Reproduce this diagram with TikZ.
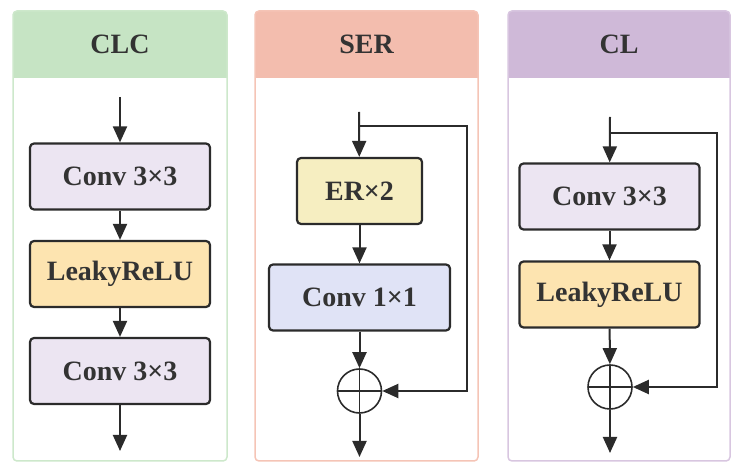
\documentclass[tikz,border=0pt]{standalone}
\usepackage{fontspec}
\setmainfont{Liberation Serif}
\usepackage{xcolor}
\usepackage{tikz}
\usetikzlibrary{arrows.meta, positioning, calc}
\definecolor{HeadGreen}{HTML}{C6E4C4}
\definecolor{HeadRed}{HTML}{F3BDAE}
\definecolor{HeadPurple}{HTML}{CFB9D8}
\definecolor{EdgeGreen}{HTML}{CDE8CB}
\definecolor{EdgeRed}{HTML}{F5C4B6}
\definecolor{EdgePurple}{HTML}{D8C6E0}
\definecolor{FillConv}{HTML}{ECE5F2}
\definecolor{FillLeaky}{HTML}{FDE4B0}
\definecolor{FillER}{HTML}{F6EEC1}
\definecolor{FillOne}{HTML}{E0E3F6}
\definecolor{LineDark}{HTML}{2B2B2B}
\definecolor{TextDark}{HTML}{333333}
\tikzset{
  >={Triangle[length=16pt,width=14pt]},  % punte grandi piene
  % Riquadri dei tre moduli
  panel/.style={rounded corners=4pt,line width=1.5pt},
  head text/.style={font=\bfseries\fontsize{28}{32}\selectfont,text=TextDark},
  % Blocchi
  blk/.style={draw=LineDark,line width=2.2pt,rounded corners=4pt,minimum height=66pt,
    inner sep=0pt,font=\bfseries\fontsize{28}{32}\selectfont,text=TextDark},
  blk conv/.style={blk,fill=FillConv,minimum width=180pt},
  blk leaky/.style={blk,fill=FillLeaky,minimum width=180pt},
  blk er/.style={blk,fill=FillER,minimum width=125pt},
  blk one/.style={blk,fill=FillOne,minimum width=181pt},
  % Somma
  sum/.style={circle,draw=LineDark,line width=1.6pt,minimum size=44pt,inner sep=0pt,
    path picture={\draw[LineDark,line width=1.6pt]
      (path picture bounding box.north) -- (path picture bounding box.south)
      (path picture bounding box.west) -- (path picture bounding box.east);}},
  % Connessioni
  conn/.style={->,line width=2pt,LineDark}
}
\begin{document}
\begin{tikzpicture}[x=1pt,y=-1pt]
  \useasboundingbox (0,0) rectangle (740,470);
  % CLC
  \fill[HeadGreen,rounded corners=4pt] (13,11) rectangle (227,78);
  \fill[HeadGreen] (13,60) rectangle (227,78);
  \draw[panel,EdgeGreen] (13,11) rectangle (227,461);
  \node[head text] (clc) at (120,44) {CLC};
  \coordinate (clcin) at (120,97);
  \node[blk conv] (clcconva) at (120,176.5) {Conv 3×3};
  \node[blk leaky] (clcleaky) at (120,274) {LeakyReLU};
  \node[blk conv] (clcconvb) at (120,371) {Conv 3×3};
  \coordinate (clcout) at (120,451);
  \draw[conn] (clcin) -- (clcconva);
  \draw[conn] (clcconva) -- (clcleaky);
  \draw[conn] (clcleaky) -- (clcconvb);
  \draw[conn] (clcconvb) -- (clcout);
  % SER
  \fill[HeadRed,rounded corners=4pt] (255,11) rectangle (478,78);
  \fill[HeadRed] (255,60) rectangle (478,78);
  \draw[panel,EdgeRed] (255,11) rectangle (478,461);
  \node[head text] (ser) at (366.5,44) {SER};
  \coordinate (serin) at (359,112);
  \coordinate (sersplit) at (359,126);
  \coordinate (serturn) at (467,126);
  \node[blk er] (serer) at (359.5,191) {ER×2};
  \node[blk one] (serconv) at (359.5,297.5) {Conv 1×1};
  \node[sum] (sersum) at (359.5,391) {};
  \coordinate (serout) at (359.5,457);
  \draw[conn] (serin) -- (serer);
  \draw[conn] (serer) -- (serconv);
  \draw[conn] (serconv) -- (sersum);
  \draw[conn] (sersum) -- (serout);
  \draw[conn] (sersplit) -- (serturn) |- (sersum);
  % CL
  \fill[HeadPurple,rounded corners=4pt] (508,11) rectangle (730,78);
  \fill[HeadPurple] (508,60) rectangle (730,78);
  \draw[panel,EdgePurple] (508,11) rectangle (730,461);
  \node[head text] (cl) at (619,44) {CL};
  \coordinate (clin) at (610,117);
  \coordinate (clsplit) at (610,133);
  \coordinate (clturn) at (717,133);
  \node[blk conv] (clconv) at (609.5,196.5) {Conv 3×3};
  \node[blk leaky] (clleaky) at (609.5,294.5) {LeakyReLU};
  \node[sum] (clsum) at (610,387) {};
  \coordinate (clout) at (610,453);
  \draw[conn] (clin) -- (clconv);
  \draw[conn] (clconv) -- (clleaky);
  \draw[conn] (clleaky) -- (clsum);
  \draw[conn] (clsum) -- (clout);
  \draw[conn] (clsplit) -- (clturn) |- (clsum);
\end{tikzpicture}
\end{document}
